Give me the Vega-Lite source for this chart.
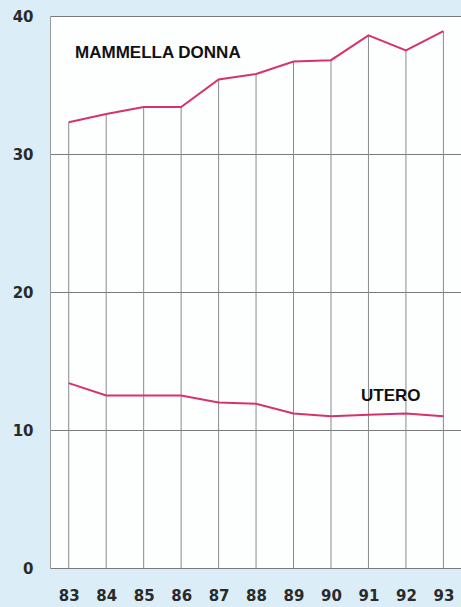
{
  "$schema": "https://vega.github.io/schema/vega-lite/v6.json",
  "width": 411,
  "height": 552,
  "autosize": {"type": "none"},
  "padding": {"left": 50, "top": 16, "right": 0, "bottom": 39},
  "background": "#dbeef8",
  "view": {"fill": "#fdfefe", "stroke": null},
  "config": {
    "axis": {"labelFont": "DejaVu Sans", "labelFontSize": 15, "labelFontWeight": "bold", "labelColor": "#2a2a2a", "ticks": false, "title": null}
  },
  "datasets": {
    "series": [
      {"year": 83, "series": "MAMMELLA DONNA", "value": 32.3},
      {"year": 84, "series": "MAMMELLA DONNA", "value": 32.9},
      {"year": 85, "series": "MAMMELLA DONNA", "value": 33.4},
      {"year": 86, "series": "MAMMELLA DONNA", "value": 33.4},
      {"year": 87, "series": "MAMMELLA DONNA", "value": 35.4},
      {"year": 88, "series": "MAMMELLA DONNA", "value": 35.8},
      {"year": 89, "series": "MAMMELLA DONNA", "value": 36.7},
      {"year": 90, "series": "MAMMELLA DONNA", "value": 36.8},
      {"year": 91, "series": "MAMMELLA DONNA", "value": 38.6},
      {"year": 92, "series": "MAMMELLA DONNA", "value": 37.5},
      {"year": 93, "series": "MAMMELLA DONNA", "value": 38.9},
      {"year": 83, "series": "UTERO", "value": 13.4},
      {"year": 84, "series": "UTERO", "value": 12.5},
      {"year": 85, "series": "UTERO", "value": 12.5},
      {"year": 86, "series": "UTERO", "value": 12.5},
      {"year": 87, "series": "UTERO", "value": 12.0},
      {"year": 88, "series": "UTERO", "value": 11.9},
      {"year": 89, "series": "UTERO", "value": 11.2},
      {"year": 90, "series": "UTERO", "value": 11.0},
      {"year": 91, "series": "UTERO", "value": 11.1},
      {"year": 92, "series": "UTERO", "value": 11.2},
      {"year": 93, "series": "UTERO", "value": 11.0}
    ],
    "labels": [
      {"label": "MAMMELLA DONNA", "x": 83.17, "y": 36.95},
      {"label": "UTERO", "x": 90.8, "y": 12.1}
    ]
  },
  "layer": [
    {
      "data": {"name": "series"},
      "transform": [{"filter": "datum.series === 'MAMMELLA DONNA'"}],
      "mark": {"type": "rule", "color": "#8a8a8a", "strokeWidth": 1},
      "encoding": {
        "x": {
          "field": "year", "type": "quantitative",
          "scale": {"domain": [82.5, 93.47], "nice": false, "zero": false},
          "axis": {"values": [83, 84, 85, 86, 87, 88, 89, 90, 91, 92, 93], "format": "d", "domain": false, "grid": false, "labelPadding": 20, "labelFlush": false}
        },
        "y": {
          "field": "value", "type": "quantitative",
          "scale": {"domain": [0, 40], "nice": false},
          "axis": {"values": [0, 10, 20, 30, 40], "grid": true, "gridColor": "#7a7a7a", "gridOpacity": 1, "gridWidth": 1, "domain": true, "domainColor": "#9a9a9a", "labelPadding": 17}
        },
        "y2": {"datum": 0}
      }
    },
    {
      "data": {"name": "series"},
      "mark": {"type": "line", "color": "#d6336c", "strokeWidth": 2},
      "encoding": {
        "x": {"field": "year", "type": "quantitative"},
        "y": {"field": "value", "type": "quantitative"},
        "detail": {"field": "series"}
      }
    },
    {
      "data": {"name": "labels"},
      "mark": {"type": "text", "align": "left", "baseline": "alphabetic", "font": "Liberation Sans", "fontWeight": "bold", "fontSize": 17, "color": "#111111"},
      "encoding": {
        "x": {"field": "x", "type": "quantitative"},
        "y": {"field": "y", "type": "quantitative"},
        "text": {"field": "label"}
      }
    }
  ]
}
